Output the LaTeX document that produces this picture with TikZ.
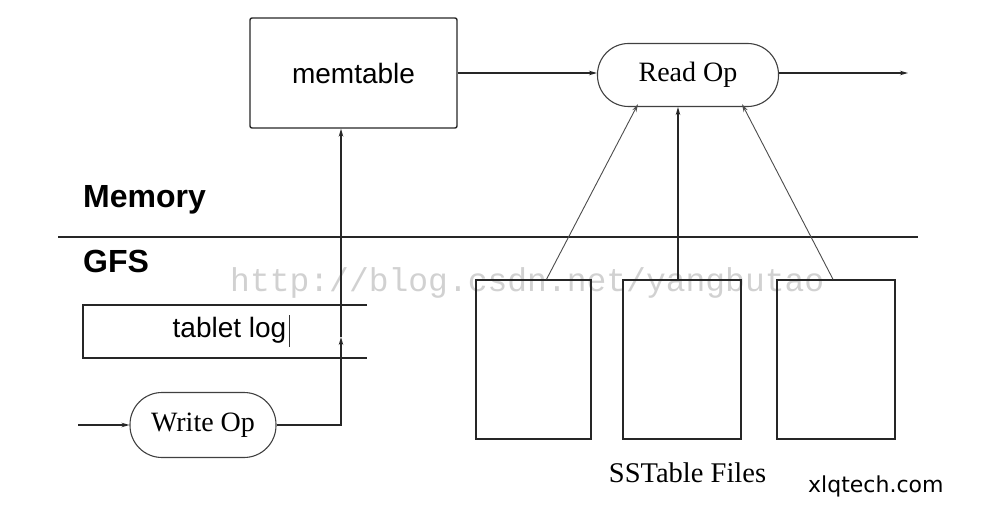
\documentclass[tikz,border=0pt]{standalone}
\usepackage{fontspec}
\setmainfont{Liberation Serif}
\setsansfont{Liberation Sans}
\newfontfamily\wmfont{Liberation Mono}
\newfontfamily\xlqfont{DejaVu Sans}
\usetikzlibrary{arrows.meta}
\begin{document}
\begin{tikzpicture}[x=1pt,y=-1pt,
  box/.style={draw=black!85, line width=1.4pt, inner sep=0pt},
  pill/.style={draw=black!75, line width=1.1pt, inner sep=0pt, font=\fontsize{28}{30}\selectfont},
  conn/.style={draw=black!85, line width=1.3pt, -{Stealth[length=8pt,width=4.5pt]}},
  lightconn/.style={draw=black!70, line width=0.9pt, -{Stealth[length=8pt,width=4.5pt]}},
  plain/.style={draw=black!85, line width=1.4pt},
  lbl/.style={inner sep=0pt, anchor=base}]
\useasboundingbox (0,0) rectangle (990,516);
% watermark
\node[lbl, anchor=base west, text=black!18, font=\wmfont\fontsize{33}{33}\selectfont] (wm) at (230,291) {http://blog.csdn.net/yangbutao};
% memory / GFS boundary
\coordinate (sepL) at (58,237);
\coordinate (sepR) at (918,237);
\draw[plain] (sepL) -- (sepR);
\node[lbl, anchor=base west, font=\sffamily\bfseries\fontsize{32}{34}\selectfont] (memlbl) at (83,207) {Memory};
\node[lbl, anchor=base west, font=\sffamily\bfseries\fontsize{32}{34}\selectfont] (gfslbl) at (83,272) {GFS};
% memtable
\node[box, rounded corners=2pt, minimum width=207pt, minimum height=110pt, font=\sffamily\fontsize{28}{30}\selectfont] (mem) at (353.5,73) {memtable};
% Read Op
\node[pill, rounded corners=31pt, minimum width=181pt, minimum height=63pt] (ro) at (688,75) {Read Op};
\coordinate (rout) at (908,73);
\draw[conn] (mem.east) -- (mem.east -| ro.west);
\draw[conn] (ro.east |- rout) -- (rout);
% tablet log
\coordinate (tlTL) at (83,305);
\coordinate (tlBL) at (83,358);
\coordinate (tlTR) at (367,305);
\coordinate (tlBR) at (367,358);
\draw[plain] (tlTR) -- (tlTL) -- (tlBL) -- (tlBR);
\node[lbl, font=\sffamily\fontsize{28}{30}\selectfont] (tl) at (229.5,337) {tablet log};
\coordinate (cur1) at (289,315);
\coordinate (cur2) at (289,347);
\draw[line width=1pt, draw=black!80] (cur1) -- (cur2);
% Write Op
\node[pill, rounded corners=32pt, minimum width=146pt, minimum height=65pt] (wo) at (203,425) {Write Op};
\coordinate (win) at (78,425);
\draw[conn] (win) -- (wo.west);
\coordinate (m1) at (341,337);
\draw[conn] (wo.east) -| (m1);
\draw[conn] (m1) -- (m1 |- mem.south);
% SSTables
\node[box, minimum width=115pt, minimum height=159pt] (b1) at (533.5,359.5) {};
\node[box, minimum width=118pt, minimum height=159pt] (b2) at (682,359.5) {};
\node[box, minimum width=118pt, minimum height=159pt] (b3) at (836,359.5) {};
\draw[lightconn] ([xshift=13pt]b1.north) -- ([xshift=-50pt,yshift=3pt]ro.south);
\draw[conn] ([xshift=-4pt]b2.north) -- ([xshift=-10pt]ro.south);
\draw[lightconn] ([xshift=-3pt]b3.north) -- ([xshift=54pt,yshift=3pt]ro.south);
\node[lbl, font=\fontsize{28.5}{30}\selectfont] (sst) at (687.5,482) {SSTable Files};
\node[lbl, anchor=base west, font=\xlqfont\fontsize{22}{24}\selectfont] (xlq) at (808,492) {xlqtech.com};
\end{tikzpicture}
\end{document}
